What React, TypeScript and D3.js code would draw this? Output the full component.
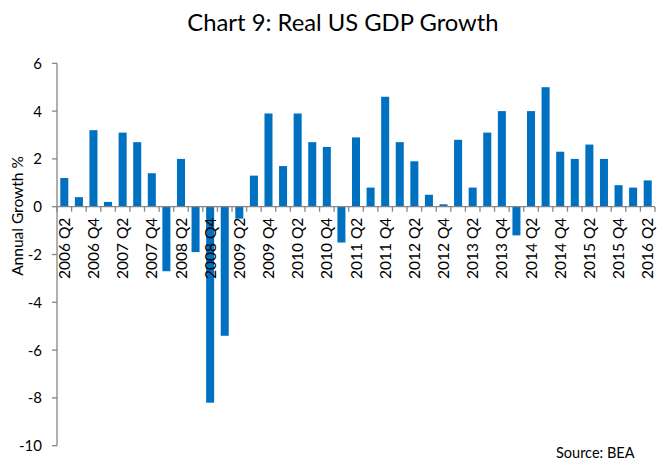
import React from "react";
import * as d3 from "d3";

const years = [2006, 2007, 2008, 2009, 2010, 2011, 2012, 2013, 2014, 2015, 2016];
const quarters: string[] = [];
years.forEach((y) => {
  [1, 2, 3, 4].forEach((q) => {
    if ((y === 2006 && q < 2) || (y === 2016 && q > 2)) return;
    quarters.push(`${y} Q${q}`);
  });
});

const growth = [
  1.2, 0.4, 3.2, 0.2, 3.1, 2.7, 1.4, -2.7, 2.0, -1.9, -8.2, -5.4, -0.5, 1.3, 3.9, 1.7,
  3.9, 2.7, 2.5, -1.5, 2.9, 0.8, 4.6, 2.7, 1.9, 0.5, 0.1, 2.8, 0.8, 3.1, 4.0, -1.2,
  4.0, 5.0, 2.3, 2.0, 2.6, 2.0, 0.9, 0.8, 1.1,
];

const yTicks = [-10, -8, -6, -4, -2, 0, 2, 4, 6];

const W = 662;
const H = 462;
const left = 57;
const right = 655;
const top = 63.3;
const bottom = 445.7;
const font = "Lato, 'Open Sans', sans-serif";
const axisColor = "#868686";

export default function App() {
  const x = d3.scaleBand<string>().domain(quarters).range([left, right]).paddingInner(0.45).paddingOuter(0.225);
  const xb = d3.scaleLinear().domain([0, quarters.length]).range([left, right]);
  const y = d3.scaleLinear().domain([-10, 6]).range([bottom, top]);
  const y0 = y(0);
  return (
    <svg width={W} height={H} style={{ position: "absolute", left: 0, top: 0, background: "#fff" }} fontFamily={font}>
      <text x={W / 2 + 12} y={31} textAnchor="middle" fontSize={23.8} fill="#000">Chart 9: Real US GDP Growth</text>
      {growth.map((v, i) => (
        <rect key={i} x={x(quarters[i])} width={x.bandwidth()} y={Math.min(y(v), y0)} height={Math.abs(y(v) - y0)} fill="#0070C0" />
      ))}
      <line x1={left} x2={left} y1={top} y2={bottom} stroke={axisColor} strokeWidth={1.3} />
      {yTicks.map((t) => (
        <g key={t}>
          <line x1={left - 5} x2={left} y1={y(t)} y2={y(t)} stroke={axisColor} strokeWidth={1.3} />
          <text x={left - 15} y={y(t)} dy="0.36em" textAnchor="end" fontSize={15} fill="#000">{t}</text>
        </g>
      ))}
      <line x1={left} x2={right} y1={y0} y2={y0} stroke={axisColor} strokeWidth={1.3} />
      {d3.range(quarters.length + 1).map((i) => (
        <line key={i} x1={xb(i)} x2={xb(i)} y1={y0} y2={y0 + 5} stroke={axisColor} strokeWidth={1.3} />
      ))}
      {quarters.map((q, i) =>
        i % 2 === 0 ? (
          <text key={q} transform={`translate(${(x(q) ?? 0) + x.bandwidth() / 2},${y0 + 11}) rotate(-90)`} textAnchor="end" dy="0.36em" fontSize={15.5} fill="#000">{q}</text>
        ) : null
      )}
      <text transform={`translate(17,216) rotate(-90)`} textAnchor="middle" dy="0.36em" fontSize={15.5} fill="#000">Annual Growth %</text>
      <text x={556} y={458} fontSize={14.5} fill="#000">Source: BEA</text>
    </svg>
  );
}
